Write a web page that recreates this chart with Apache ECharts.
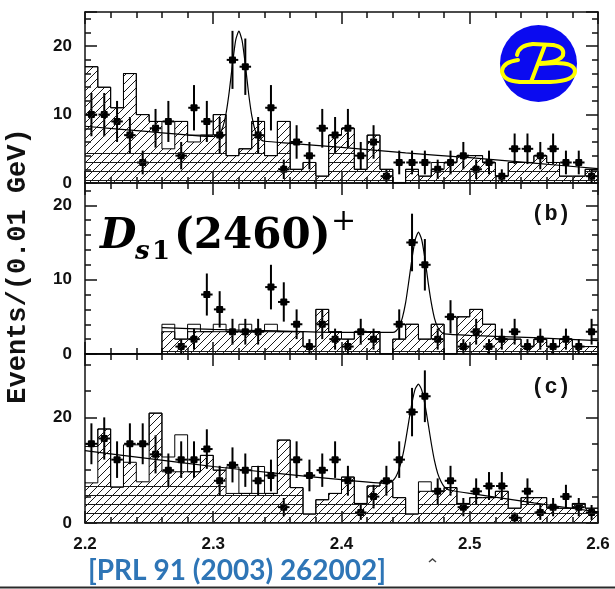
<!DOCTYPE html>
<html>
<head>
<meta charset="utf-8">
<script src="https://cdn.jsdelivr.net/npm/echarts@6/dist/echarts.min.js"></script>
<style>
  html, body { margin: 0; padding: 0; background: #fff; }
  #chart { width: 615px; height: 589px; }
</style>
</head>
<body>
<div id="chart"></div>
<script>
// Invariant-mass bins, 0.01 GeV wide
const binEdges = [2.20,2.21,2.22,2.23,2.24,2.25,2.26,2.27,2.28,2.29,2.30,2.31,2.32,2.33,2.34,2.35,2.36,2.37,2.38,2.39,
                  2.40,2.41,2.42,2.43,2.44,2.45,2.46,2.47,2.48,2.49,2.50,2.51,2.52,2.53,2.54,2.55,2.56,2.57,2.58,2.59,2.60];
const massTicks = [2.2, 2.3, 2.4, 2.5, 2.6];

// Panel (a)
const eventsA  = [10,10,9,7,3,8,9,4,11,9,7,18,17,7,11,2,6,4,8,7, 8,4,6,1,3,3,3,2,3,4,2,3,1,5,5,4,5,3,3,1];
const hatchedA = [17,14,11,16,10,9,5,9,6,7,10,4,5,9,4,9,2,3,1,7, 8,2,7,2,0,2,1,2,3,4,4,3,1,3,3,4,3,1,1,2];
const openA    = [17,14,11,16,10,9,9,9,7,7,10,4,5,9,4,9,2,3,1,7, 8,2,7,2,0,2,1,3,3,4,4,3,1,3,3,4,3,1,1,2];
const lowerA   = [4.5,4.5,4.5,4.5,4.5,4.5,4.5,4.5,4.5,4.5,4.5,4,4.5,4.5,4,4.5,2,3,1,4.5, 4.5,2,3,2,0,2,1,2,2,2.5,2.5,2.5,1,2.5,2.5,2.5,2.5,1,1,2];
const fitMassA = [2.20,2.25,2.30,2.3025,2.305,2.3075,2.31,2.3125,2.315,2.3175,2.32,2.3225,2.325,2.3275,2.33,2.3325,2.335,2.3375,2.34,2.36,2.40,2.45,2.50,2.55,2.60];
const fitYieldA = [8.3,7.5,6.8,6.9,7.2,8.2,10.2,13.4,17.4,20.9,22.2,20.8,17.3,13.2,9.9,7.8,6.8,6.3,6.1,5.8,5.2,4.4,3.7,2.9,2.1];

// Panel (b)
const eventsB  = [null,null,null,null,null,null,null,1,2,8,6,3,3,3,9,7,4,1,4,2, 1,3,2,null,4,15,12,2,5,1,3,1,2,3,1,2,1,2,1,3];
const hatchedB = [0,0,0,0,0,0,3,2,3,3,3,3,3,3,3,3,3,1,6,3, 2,3,3,0,2,4,2,4,0,5,6,4,2,2,1,2,1,2,1,1];
const openB    = [0,0,0,0,0,0,4,2,4,3,4,3,4,3,4,3,3,1,6,3, 2,3,3,0,2,4,2,4,0,5,6,4,2,2,1,2,1,2,1,1];
const lowerB   = [0,0,0,0,0,0,1.3,1.3,1.3,1.3,1.3,1.3,1.3,1.3,1.3,1.3,1.3,1,1.3,1.3, 1.3,1.3,1.3,0,1.3,1.3,1.3,1.3,0,1.3,1.3,1.3,1.3,1.3,1,1.3,1,1.3,1,1];
const fitMassB = [2.26,2.30,2.35,2.40,2.44,2.4425,2.445,2.4475,2.45,2.4525,2.455,2.4575,2.46,2.4625,2.465,2.4675,2.47,2.4725,2.475,2.4775,2.48,2.50,2.55,2.60];
const fitYieldB = [3.55,3.3,3.1,2.9,2.9,3.1,3.7,4.9,6.9,9.8,12.9,15.4,16.4,15.4,12.9,9.7,6.9,4.8,3.6,3.0,2.7,2.5,2.2,1.8];

// Panel (c)
const eventsC  = [15,16,12,15,15,13,10,12,12,14,8,11,10,8,9,3,12,9,10,12, 8,2,5,8,12,21,24,6,8,3,6,7,7,1,6,2,3,5,3,2];
const hatchedC = [7.6,17.8,6.8,11.5,7.8,20.8,9.7,9.7,9.7,12.8,10,5.6,5.6,5.6,5.6,15.7,6.7,1.7,4.4,5.6, 8.7,3.7,7,7.8,4.8,1.7,6,6,6.7,3.7,4.8,4.8,6,2.8,4.8,4.8,2.8,2.8,3.7,2.8];
const openC    = [14.5,17.8,6.8,14.8,14.8,20.8,12.5,16.7,9.7,12.8,10,10.6,5.6,10.7,5.6,15.7,6.7,1.7,4.4,5.6, 8.7,3.7,7,7.8,4.8,1.7,7.8,6,6.7,3.7,4.8,4.8,6,2.8,4.8,4.8,2.8,2.8,3.7,2.8];
const lowerC   = [7.6,7.6,6.8,7.6,7.6,7.6,7.6,7.6,7.6,7.6,7.6,5.6,5.6,5.6,5.6,5.6,5.6,1.7,4.4,4.4, 4.4,3.7,4.4,4.4,4.4,1.7,4.4,4.4,4.4,3.7,4.4,4.4,4.4,2.8,4.4,4.4,2.8,2.8,3.7,2.8];
const fitMassC = [2.20,2.25,2.30,2.35,2.40,2.435,2.4375,2.44,2.4425,2.445,2.4475,2.45,2.4525,2.455,2.4575,2.46,2.4625,2.465,2.4675,2.47,2.4725,2.475,2.4775,2.48,2.4825,2.485,2.50,2.55,2.60];
const fitYieldC = [13.7,12.2,10.7,9.4,8.2,7.5,7.7,8.0,8.8,10.3,12.5,15.6,19.3,22.8,25.4,26.3,25.2,22.5,18.9,15.1,11.8,9.4,7.9,6.9,6.4,6.2,5.6,3.8,2.1];

const panels = [
  { events: eventsA, hatched: hatchedA, open: openA, lower: lowerA, fitX: fitMassA, fitY: fitYieldA, yMax: 25, major: 10, minor: 2 },
  { events: eventsB, hatched: hatchedB, open: openB, lower: lowerB, fitX: fitMassB, fitY: fitYieldB, yMax: 23, major: 10, minor: 2 },
  { events: eventsC, hatched: hatchedC, open: openC, lower: lowerC, fitX: fitMassC, fitY: fitYieldC, yMax: 32, major: 20, minor: 5 }
];
const gridBoxes = [
  { left: 85, right: 17, top: 12, height: 171 },
  { left: 85, right: 17, top: 183, height: 171 },
  { left: 85, right: 17, top: 354, height: 169 }
];

// Fill patterns: diagonal hatching and horizontal ruling
function diagonalTile() {
  const c = document.createElement('canvas');
  c.width = 8; c.height = 8;
  const g = c.getContext('2d');
  g.strokeStyle = '#1a1a1a'; g.lineWidth = 1;
  g.beginPath();
  g.moveTo(0, 8); g.lineTo(8, 0);
  g.moveTo(-2, 2); g.lineTo(2, -2);
  g.moveTo(6, 10); g.lineTo(10, 6);
  g.stroke();
  return c;
}
function horizontalTile() {
  const c = document.createElement('canvas');
  c.width = 8; c.height = 9;
  const g = c.getContext('2d');
  g.fillStyle = '#1a1a1a';
  g.fillRect(0, 0, 8, 1);
  return c;
}
const diagPattern = { image: diagonalTile(), repeat: 'repeat' };
const horizPattern = { image: horizontalTile(), repeat: 'repeat' };

const ink = '#111';
const frameStyle = { color: ink, width: 1.5 };
const halfBar = 0.0045;

function stepData(vals) {
  return binEdges.map((e, i) => [e, vals[Math.min(i, vals.length - 1)]]);
}
function pointData(vals) {
  const out = [];
  vals.forEach((v, i) => {
    if (v === null) return;
    const centre = (binEdges[i] + binEdges[i + 1]) / 2;
    out.push([centre, v, Math.sqrt(v)]);
  });
  return out;
}

function renderPoint(params, api) {
  const x = api.value(0), y = api.value(1), e = api.value(2);
  const c = api.coord([x, y]);
  const top = api.coord([x, y + e]);
  const bot = api.coord([x, y - e]);
  const l = api.coord([x - halfBar, y]);
  const r = api.coord([x + halfBar, y]);
  const st = { stroke: '#000', lineWidth: 2 };
  return {
    type: 'group',
    children: [
      { type: 'line', shape: { x1: top[0], y1: top[1], x2: bot[0], y2: bot[1] }, style: st },
      { type: 'line', shape: { x1: l[0], y1: l[1], x2: r[0], y2: r[1] }, style: st },
      { type: 'rect', shape: { x: c[0] - 3.5, y: c[1] - 3.5, width: 7, height: 7, r: 1 }, style: { fill: '#000' } }
    ]
  };
}

const xAxes = [], yAxes = [], series = [];
panels.forEach((p, k) => {
  ['bottom', 'top'].forEach(pos => {
    xAxes.push({
      gridIndex: k, type: 'value', min: 2.2, max: 2.6, interval: 0.1, position: pos,
      axisLine: { show: true, onZero: false, lineStyle: frameStyle },
      axisTick: { inside: true, length: 12, lineStyle: frameStyle },
      minorTick: { show: true, splitNumber: 5, length: 6, lineStyle: frameStyle },
      splitLine: { show: false },
      axisLabel: {
        show: k === 2 && pos === 'bottom', margin: 13,
        fontFamily: 'Liberation Sans, Arial, sans-serif', fontWeight: 'bold', fontSize: 17, color: ink,
        formatter: v => (massTicks.some(t => Math.abs(t - v) < 1e-6) ? v.toFixed(1) : '')
      }
    });
  });
  ['left', 'right'].forEach(pos => {
    yAxes.push({
      gridIndex: k, type: 'value', min: 0, max: p.yMax, interval: p.major, position: pos,
      axisLine: { show: true, onZero: false, lineStyle: frameStyle },
      axisTick: { inside: true, length: 12, lineStyle: frameStyle },
      splitLine: { show: false },
      axisLabel: {
        show: pos === 'left', margin: 13,
        fontFamily: 'Liberation Sans, Arial, sans-serif', fontWeight: 'bold', fontSize: 17, color: ink,
        formatter: v => (v % p.major === 0 ? String(v) : '')
      }
    });
    yAxes.push({
      gridIndex: k, type: 'value', min: 0, max: p.yMax, interval: p.minor, position: pos,
      axisLine: { show: false },
      axisTick: { inside: true, length: 6, lineStyle: frameStyle },
      splitLine: { show: false },
      axisLabel: { show: false }
    });
  });
  const xi = 2 * k, yi = 4 * k;
  series.push({
    type: 'line', xAxisIndex: xi, yAxisIndex: yi, step: 'end', symbol: 'none',
    data: stepData(p.lower), lineStyle: { width: 0, opacity: 0 },
    areaStyle: { color: horizPattern, opacity: 1 }, silent: true
  });
  series.push({
    type: 'line', xAxisIndex: xi, yAxisIndex: yi, step: 'end', symbol: 'none',
    data: stepData(p.hatched), lineStyle: { width: 1, color: '#000' },
    areaStyle: { color: diagPattern, opacity: 1 }, silent: true
  });
  series.push({
    type: 'line', xAxisIndex: xi, yAxisIndex: yi, step: 'end', symbol: 'none',
    data: stepData(p.open), lineStyle: { width: 1, color: '#000' }, silent: true
  });
  series.push({
    type: 'line', xAxisIndex: xi, yAxisIndex: yi, symbol: 'none', smooth: 0.2,
    data: p.fitX.map((x, i) => [x, p.fitY[i]]), lineStyle: { width: 1.2, color: '#000' }, silent: true
  });
  series.push({
    type: 'custom', xAxisIndex: xi, yAxisIndex: yi, renderItem: renderPoint,
    data: pointData(p.events), silent: true
  });
});

// Belle emblem strokes: quadratic pieces [x1, y1, cx, cy, x2, y2] and straight pieces [x1, y1, x2, y2]
const emblemCurves = [
  [517, 55, 519, 45, 533, 44], [553, 45, 565, 47, 563, 55], [563, 55, 560, 62, 541, 63],
  [518, 60, 503, 62, 502, 71], [502, 71, 503, 81, 520, 82], [550, 82, 575, 81, 575, 71], [575, 71, 574, 63, 556, 63]
];
const emblemLines = [[533, 44, 553, 45], [545, 45, 531, 82], [520, 82, 550, 82], [556, 63, 540, 64]];
const yellowStroke = { stroke: '#ffff00', lineWidth: 4, fill: null, lineCap: 'round' };

const serif = 'DejaVu Serif, serif';
const graphics = [
  // vertical axis title
  { type: 'text', x: 18, y: 266, rotation: Math.PI / 2,
    style: { text: 'Events/(0.01 GeV)', font: 'bold 27px "Liberation Mono", "DejaVu Sans Mono", monospace',
             fill: ink, align: 'center', verticalAlign: 'middle' } },
  // resonance name
  { type: 'text', x: 100, y: 237, style: { text: 'D', font: 'italic bold 42px ' + serif, fill: '#000', verticalAlign: 'middle' } },
  { type: 'text', x: 135, y: 252, style: { text: 's', font: 'italic bold 26px ' + serif, fill: '#000', verticalAlign: 'middle' } },
  { type: 'text', x: 152, y: 252, style: { text: '1', font: 'bold 26px ' + serif, fill: '#000', verticalAlign: 'middle' } },
  { type: 'text', x: 174, y: 237, style: { text: '(2460)', font: 'bold 42px ' + serif, fill: '#000', verticalAlign: 'middle' } },
  { type: 'text', x: 331, y: 222, style: { text: '+', font: '30px ' + serif, fill: '#000', verticalAlign: 'middle' } },
  // panel tags
  { type: 'text', x: 551, y: 214, style: { text: '(b)', font: 'bold 22px "Liberation Mono", monospace', fill: ink, align: 'center', verticalAlign: 'middle' } },
  { type: 'text', x: 551, y: 387, style: { text: '(c)', font: 'bold 22px "Liberation Mono", monospace', fill: ink, align: 'center', verticalAlign: 'middle' } },
  // Belle emblem
  { type: 'circle', shape: { cx: 538.5, cy: 63.5, r: 38.5 }, style: { fill: '#0b0bf0' } }
].concat(
  emblemCurves.map(c => ({ type: 'bezierCurve', shape: { x1: c[0], y1: c[1], cpx1: c[2], cpy1: c[3], x2: c[4], y2: c[5] }, style: yellowStroke })),
  emblemLines.map(l => ({ type: 'line', shape: { x1: l[0], y1: l[1], x2: l[2], y2: l[3] }, style: yellowStroke })),
  [
    // reference
    { type: 'text', x: 88, y: 571, style: { text: '[PRL 91 (2003) 262002]', font: 'bold 28px Lato, "Open Sans", sans-serif',
               fill: '#2e75b6', verticalAlign: 'middle' } },
    { type: 'polyline', shape: { points: [[429, 562], [432.5, 559], [436, 562]] }, style: { stroke: '#444', lineWidth: 1.5, fill: null } },
    { type: 'line', shape: { x1: 0, y1: 587.5, x2: 615, y2: 587.5 }, style: { stroke: '#2a2a2a', lineWidth: 2 } }
  ]
);

const chart = echarts.init(document.getElementById('chart'), null, { renderer: 'canvas' });
chart.setOption({
  animation: false,
  backgroundColor: '#fff',
  grid: gridBoxes,
  xAxis: xAxes,
  yAxis: yAxes,
  series: series,
  graphic: graphics
});
</script>
</body>
</html>
